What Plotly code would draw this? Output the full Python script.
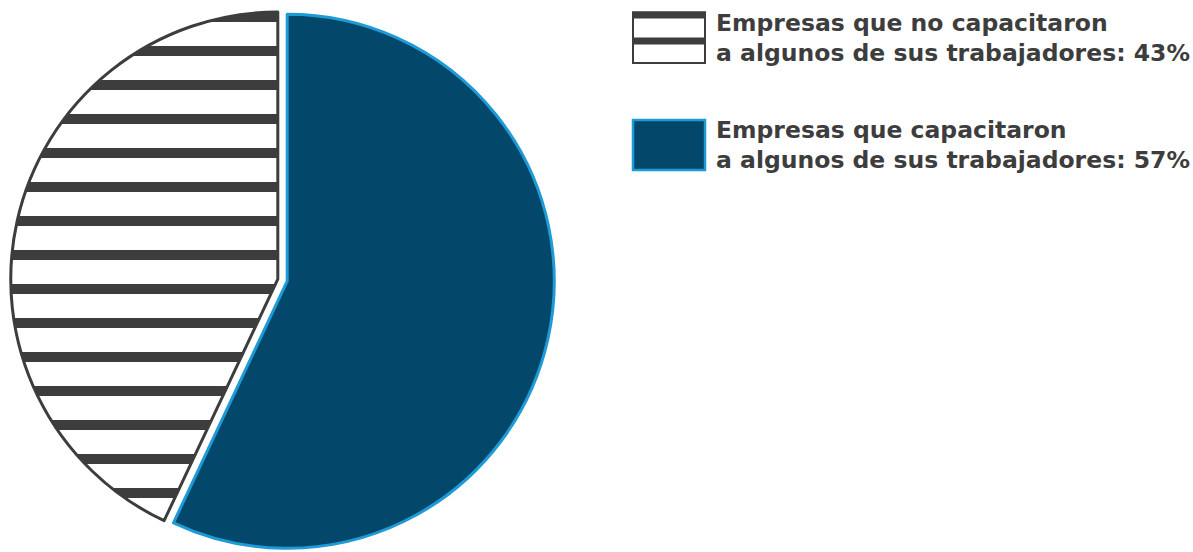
import plotly.graph_objects as go

# Data
labels = ["Empresas que capacitaron a algunos de sus trabajadores",
          "Empresas que no capacitaron a algunos de sus trabajadores"]
values = [57, 43]
legend_line1 = ["Empresas que no capacitaron", "Empresas que capacitaron"]
legend_line2 = ["a algunos de sus trabajadores: 43%", "a algunos de sus trabajadores: 57%"]

BLUE = "#03476A"
BLUE_EDGE = "#1E9AD6"
DARK = "#3D3D3D"
W, H = 1193, 552

fig = go.Figure()
fig.add_trace(go.Pie(
    labels=labels,
    values=values,
    sort=False,
    direction="clockwise",
    rotation=0,
    pull=[0.018, 0.018],
    textinfo="none",
    showlegend=False,
    domain=dict(x=[0, 0.4736], y=[0, 0.985]),
    marker=dict(
        colors=[BLUE, "white"],
        line=dict(color=[BLUE_EDGE, DARK], width=[3, 3]),
        pattern=dict(shape=["", "-"], fgcolor=DARK, bgcolor="white",
                     size=34, solidity=0.3, fillmode="replace"),
    ),
))

def px(x):
    return x / W

def py(y):
    return 1 - y / H

shapes = []
# Legend symbol 1 (striped)
shapes.append(dict(type="rect", xref="paper", yref="paper",
                   x0=px(633), x1=px(705), y0=py(63), y1=py(12.5),
                   fillcolor="white", line=dict(color=DARK, width=2)))
shapes.append(dict(type="rect", xref="paper", yref="paper",
                   x0=px(632), x1=px(706), y0=py(18.5), y1=py(11.5),
                   fillcolor=DARK, line=dict(width=0)))
shapes.append(dict(type="rect", xref="paper", yref="paper",
                   x0=px(632), x1=px(706), y0=py(44.5), y1=py(37.5),
                   fillcolor=DARK, line=dict(width=0)))
# Legend symbol 2 (blue)
shapes.append(dict(type="rect", xref="paper", yref="paper",
                   x0=px(633), x1=px(705), y0=py(170), y1=py(120),
                   fillcolor=BLUE, line=dict(color=BLUE_EDGE, width=2.5)))

annotations = []
centers = [37.5, 145]
for i in range(2):
    for j, txt in enumerate([legend_line1[i], legend_line2[i]]):
        annotations.append(dict(
            text=txt, xref="paper", yref="paper",
            x=px(714), y=py(centers[i] - 15 + 30 * j),
            xanchor="left", yanchor="middle", showarrow=False,
            font=dict(family="DejaVu Sans", size=23.5, color=DARK, weight=700),
        ))

fig.update_layout(
    width=W, height=H,
    margin=dict(l=0, r=0, t=0, b=0),
    paper_bgcolor="white", plot_bgcolor="white",
    shapes=shapes, annotations=annotations,
)

fig.write_html("out.html", config={"displayModeBar": False},
               post_script="document.body.style.margin='0';")
